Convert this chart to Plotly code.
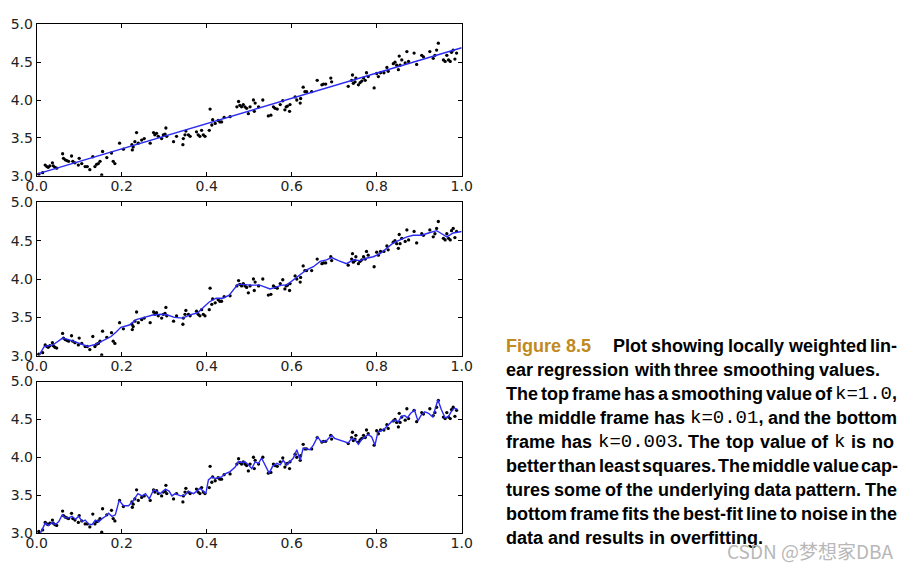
import plotly.graph_objects as go

# ---- data ----
x_data = [0.005, 0.014, 0.020, 0.024, 0.027, 0.031, 0.037, 0.039, 0.043, 0.047,
          0.061, 0.063, 0.067, 0.071, 0.075, 0.082, 0.085, 0.090, 0.098, 0.100,
          0.106, 0.114, 0.119, 0.125, 0.132, 0.137, 0.141, 0.145, 0.149, 0.153,
          0.155, 0.165, 0.176, 0.180, 0.184, 0.195, 0.204, 0.224, 0.225, 0.227,
          0.231, 0.235, 0.239, 0.247, 0.253, 0.267, 0.275, 0.278, 0.282, 0.286,
          0.294, 0.298, 0.302, 0.304, 0.306, 0.322, 0.329, 0.344, 0.345, 0.349,
          0.351, 0.357, 0.361, 0.376, 0.380, 0.384, 0.388, 0.392, 0.396, 0.406,
          0.408, 0.412, 0.414, 0.420, 0.427, 0.431, 0.435, 0.441, 0.455, 0.471,
          0.475, 0.478, 0.482, 0.486, 0.490, 0.494, 0.498, 0.502, 0.510, 0.512,
          0.514, 0.522, 0.532, 0.545, 0.551, 0.557, 0.561, 0.566, 0.573, 0.579,
          0.584, 0.587, 0.590, 0.595, 0.596, 0.608, 0.612, 0.620, 0.621, 0.627,
          0.631, 0.635, 0.647, 0.660, 0.671, 0.675, 0.680, 0.692, 0.694, 0.733,
          0.741, 0.743, 0.745, 0.749, 0.751, 0.757, 0.761, 0.765, 0.769, 0.773,
          0.776, 0.780, 0.794, 0.800, 0.804, 0.809, 0.817, 0.824, 0.827, 0.839,
          0.843, 0.847, 0.851, 0.853, 0.855, 0.859, 0.867, 0.871, 0.875, 0.888,
          0.894, 0.906, 0.910, 0.925, 0.933, 0.937, 0.941, 0.945, 0.957, 0.961,
          0.965, 0.969, 0.973, 0.976, 0.980, 0.984, 0.988]
y_data = [3.02, 3.04, 3.14, 3.12, 3.11, 3.13, 3.17, 3.13, 3.11, 3.10,
          3.29, 3.23, 3.21, 3.20, 3.19, 3.26, 3.19, 3.17, 3.14, 3.23,
          3.16, 3.12, 3.12, 3.08, 3.25, 3.12, 3.15, 3.16, 3.19, 3.01,
          3.32, 3.24, 3.30, 3.19, 3.16, 3.43, 3.35, 3.41, 3.34, 3.38,
          3.45, 3.57, 3.43, 3.47, 3.49, 3.43, 3.57, 3.54, 3.56, 3.52,
          3.49, 3.54, 3.55, 3.63, 3.52, 3.45, 3.52, 3.41, 3.49, 3.54,
          3.59, 3.54, 3.52, 3.58, 3.54, 3.52, 3.60, 3.54, 3.52, 3.60,
          3.88, 3.67, 3.74, 3.69, 3.73, 3.71, 3.71, 3.77, 3.78, 3.91,
          3.98, 3.93, 3.91, 3.94, 3.91, 3.89, 3.82, 3.91, 4.00, 3.85,
          3.96, 3.91, 4.00, 3.79, 3.80, 3.91, 3.89, 3.88, 3.94, 3.99,
          3.87, 3.91, 3.92, 3.85, 3.94, 4.04, 4.00, 3.96, 4.02, 4.17,
          4.11, 4.11, 4.11, 4.26, 4.20, 4.21, 4.21, 4.29, 4.24, 4.18,
          4.26, 4.33, 4.22, 4.24, 4.29, 4.20, 4.23, 4.25, 4.29, 4.26,
          4.36, 4.31, 4.16, 4.35, 4.31, 4.36, 4.36, 4.43, 4.38, 4.48,
          4.50, 4.46, 4.40, 4.58, 4.46, 4.53, 4.49, 4.64, 4.51, 4.62,
          4.47, 4.59, 4.57, 4.64, 4.55, 4.59, 4.66, 4.75, 4.53, 4.51,
          4.59, 4.53, 4.51, 4.63, 4.66, 4.54, 4.62]

# k = 1.0 fit (straight line)
x_fit_k1 = [0.0, 1.0]
y_fit_k1 = [3.02, 4.69]

# k = 0.01 fit
x_fit_k001 = [0.006, 0.018, 0.038, 0.061, 0.081, 0.100, 0.120, 0.140, 0.159, 0.175,
              0.187, 0.198, 0.218, 0.234, 0.253, 0.273, 0.293, 0.308, 0.324, 0.344,
              0.359, 0.379, 0.390, 0.406, 0.422, 0.438, 0.453, 0.465, 0.473, 0.485,
              0.502, 0.525, 0.537, 0.549, 0.561, 0.576, 0.588, 0.604, 0.620, 0.635,
              0.651, 0.667, 0.682, 0.694, 0.710, 0.729, 0.745, 0.761, 0.776, 0.792,
              0.808, 0.824, 0.839, 0.855, 0.871, 0.886, 0.906, 0.922, 0.941, 0.953,
              0.965, 0.980, 1.000]
y_fit_k001 = [3.01, 3.12, 3.14, 3.23, 3.20, 3.16, 3.12, 3.15, 3.21, 3.25,
              3.31, 3.37, 3.40, 3.47, 3.50, 3.53, 3.54, 3.53, 3.50, 3.49,
              3.53, 3.56, 3.62, 3.70, 3.75, 3.75, 3.79, 3.88, 3.93, 3.93,
              3.92, 3.92, 3.90, 3.87, 3.89, 3.92, 3.92, 3.99, 4.05, 4.12,
              4.16, 4.23, 4.25, 4.28, 4.24, 4.20, 4.25, 4.24, 4.27, 4.29,
              4.33, 4.40, 4.47, 4.51, 4.55, 4.57, 4.57, 4.60, 4.63, 4.59,
              4.55, 4.60, 4.62]

# k = 0.003 fit
x_fit_k0003 = [0.009, 0.020, 0.028, 0.036, 0.044, 0.052, 0.060, 0.067, 0.075, 0.083,
               0.091, 0.099, 0.107, 0.114, 0.122, 0.130, 0.138, 0.146, 0.154, 0.162,
               0.169, 0.177, 0.185, 0.194, 0.204, 0.216, 0.228, 0.238, 0.248, 0.256,
               0.265, 0.275, 0.283, 0.291, 0.303, 0.312, 0.318, 0.326, 0.338, 0.349,
               0.357, 0.369, 0.376, 0.384, 0.392, 0.398, 0.404, 0.412, 0.420, 0.427,
               0.435, 0.443, 0.455, 0.467, 0.474, 0.482, 0.490, 0.498, 0.506, 0.514,
               0.522, 0.529, 0.537, 0.547, 0.555, 0.565, 0.573, 0.580, 0.588, 0.596,
               0.604, 0.612, 0.620, 0.627, 0.635, 0.643, 0.651, 0.661, 0.670, 0.682,
               0.694, 0.701, 0.733, 0.741, 0.749, 0.757, 0.764, 0.772, 0.780, 0.788,
               0.796, 0.803, 0.811, 0.819, 0.827, 0.835, 0.843, 0.851, 0.858, 0.866,
               0.872, 0.880, 0.889, 0.897, 0.905, 0.913, 0.922, 0.932, 0.944, 0.952,
               0.961, 0.969, 0.975, 0.983, 0.991]
y_fit_k0003 = [3.00, 3.13, 3.10, 3.14, 3.11, 3.15, 3.24, 3.20, 3.20, 3.22,
               3.18, 3.22, 3.15, 3.17, 3.12, 3.11, 3.17, 3.15, 3.19, 3.22,
               3.26, 3.22, 3.24, 3.43, 3.36, 3.36, 3.43, 3.52, 3.49, 3.52,
               3.45, 3.57, 3.55, 3.52, 3.58, 3.55, 3.49, 3.52, 3.49, 3.50,
               3.55, 3.52, 3.55, 3.59, 3.55, 3.52, 3.70, 3.74, 3.72, 3.73,
               3.74, 3.78, 3.81, 3.87, 3.94, 3.93, 3.94, 3.90, 3.85, 3.94,
               3.92, 3.99, 3.90, 3.79, 3.88, 3.92, 3.90, 3.96, 3.90, 3.94,
               3.99, 4.10, 3.96, 4.12, 4.11, 4.10, 4.16, 4.27, 4.20, 4.22,
               4.29, 4.25, 4.19, 4.25, 4.23, 4.17, 4.23, 4.27, 4.30, 4.27,
               4.16, 4.34, 4.35, 4.38, 4.43, 4.47, 4.49, 4.47, 4.54, 4.55,
               4.52, 4.58, 4.62, 4.48, 4.56, 4.60, 4.58, 4.53, 4.76, 4.63,
               4.52, 4.54, 4.60, 4.65, 4.63]

x_ticks = [0.0, 0.2, 0.4, 0.6, 0.8, 1.0]
y_ticks = [3.0, 3.5, 4.0, 4.5, 5.0]
x_tick_labels = ["0.0", "0.2", "0.4", "0.6", "0.8", "1.0"]
y_tick_labels = ["3.0", "3.5", "4.0", "4.5", "5.0"]

caption_head = "Figure 8.5"
# {...} marks monospace (code) text
caption_lines = [
    "Plot showing locally weighted lin-",
    "ear regression with three smoothing values.",
    "The top frame has a smoothing value of {k=1.0},",
    "the middle frame has {k=0.01}, and the bottom",
    "frame has {k=0.003}. The top value of {k} is no",
    "better than least squares. The middle value cap-",
    "tures some of the underlying data pattern. The",
    "bottom frame fits the best-fit line to noise in the",
    "data and results in overfitting.",
]
watermark = "CSDN @梦想家DBA"

# ---- geometry (reference pixels; the page shows the figure 8px in from the corner) ----
W, H = 909, 571
OFF = 8.0
def px_x(p):
    return (p - OFF) / W
def px_y(p):
    return 1 - (p - OFF) / H

fits = [(x_fit_k1, y_fit_k1), (x_fit_k001, y_fit_k001), (x_fit_k0003, y_fit_k0003)]
panels_px = [(24.3, 175.7), (202.3, 355.7), (381.5, 533.0)]
x_px = (36.7, 461.7)

fig = go.Figure()
for i, (fx, fy) in enumerate(fits):
    xa = "x" if i == 0 else f"x{i+1}"
    ya = "y" if i == 0 else f"y{i+1}"
    fig.add_trace(go.Scatter(x=x_data, y=y_data, mode="markers", xaxis=xa, yaxis=ya,
                             marker=dict(color="black", size=3.3), showlegend=False,
                             hoverinfo="skip"))
    fig.add_trace(go.Scatter(x=fx, y=fy, mode="lines", xaxis=xa, yaxis=ya,
                             line=dict(color="#2a2af5", width=1.4), showlegend=False))

axis_common = dict(showline=True, linecolor="black", linewidth=1, mirror="ticks",
                   ticks="inside", ticklen=4, tickcolor="black", showgrid=False,
                   zeroline=False, automargin=False,
                   tickfont=dict(family="DejaVu Sans", size=14, color="#222"))
layout = dict(width=W, height=H, margin=dict(l=0, r=0, t=0, b=0, pad=0, autoexpand=False),
              paper_bgcolor="white", plot_bgcolor="white")
for i, (top, bot) in enumerate(panels_px):
    suf = "" if i == 0 else str(i + 1)
    layout["xaxis" + suf] = dict(axis_common, domain=[px_x(x_px[0]), px_x(x_px[1])],
                                 range=[0, 1], tickvals=x_ticks, ticktext=x_tick_labels,
                                 anchor="y" + suf, ticklabelstandoff=-3)
    layout["yaxis" + suf] = dict(axis_common, domain=[px_y(bot), px_y(top)], range=[3, 5],
                                 tickvals=y_ticks, ticktext=y_tick_labels,
                                 anchor="x" + suf)
fig.update_layout(**layout)

# ---- justified caption (word by word) ----
BOLD_SIZE = 18
MONO_SIZE = 19
AW = {" ": 278, ",": 278, "-": 333, ".": 278, "=": 584, "@": 975,
      "F": 611, "P": 667, "T": 611,
      "a": 556, "b": 611, "c": 556, "d": 611, "e": 556, "f": 333, "g": 611, "h": 611,
      "i": 278, "j": 278, "k": 556, "l": 278, "m": 889, "n": 611, "o": 611, "p": 611,
      "q": 611, "r": 389, "s": 556, "t": 333, "u": 611, "v": 556, "w": 778, "x": 556,
      "y": 556, "z": 500}
for d in "0123456789":
    AW[d] = 556

def segments(word):
    segs, cur, mono = [], "", False
    for ch in word:
        if ch == "{":
            if cur:
                segs.append((cur, mono))
            cur, mono = "", True
        elif ch == "}":
            segs.append((cur, mono))
            cur, mono = "", False
        else:
            cur += ch
    if cur:
        segs.append((cur, mono))
    return segs

def word_width(word):
    w = 0.0
    for txt, mono in segments(word):
        if mono:
            w += len(txt) * 0.6 * MONO_SIZE
        else:
            w += sum(AW.get(c, 556) for c in txt) / 1000 * BOLD_SIZE
    return w

def word_html(word):
    out = ""
    for txt, mono in segments(word):
        if mono:
            out += ('<span style="font-family:Liberation Mono;font-weight:normal;'
                    f'font-size:{MONO_SIZE}px">{txt}</span>')
        else:
            out += txt
    return out

cap_font = dict(family="Liberation Sans", size=BOLD_SIZE, color="black", weight="bold")
line_y = [346, 370, 393.5, 417.5, 441.7, 466, 490, 514, 538]
line_x0 = [613] + [506] * 8
line_x1 = [897, 880, 897, 897, 894, 898, 897, 897, None]

fig.add_annotation(x=px_x(506), y=px_y(line_y[0]), xref="paper", yref="paper",
                   xanchor="left", yanchor="middle", showarrow=False, text=caption_head,
                   borderpad=0, borderwidth=0,
                   font=dict(cap_font, color="#c08a1e"))

space_w = AW[" "] / 1000 * BOLD_SIZE
for line, ly, x0, x1 in zip(caption_lines, line_y, line_x0, line_x1):
    words = line.split(" ")
    widths = [word_width(w) for w in words]
    if x1 is None or len(words) < 2:
        gap = space_w
    else:
        gap = (x1 - x0 - sum(widths)) / (len(words) - 1)
    xpos = x0
    for w, ww in zip(words, widths):
        fig.add_annotation(x=px_x(xpos), y=px_y(ly), xref="paper", yref="paper",
                           xanchor="left", yanchor="middle", showarrow=False,
                           text=word_html(w), borderpad=0, borderwidth=0, font=cap_font)
        xpos += ww + gap

fig.add_annotation(x=px_x(894), y=px_y(550), xref="paper", yref="paper",
                   xanchor="right", yanchor="middle", showarrow=False, text=watermark,
                   borderpad=0, borderwidth=0,
                   font=dict(family="Noto Sans CJK SC", size=19, color="#b8b8b8"))

fig.write_html("out.html")
